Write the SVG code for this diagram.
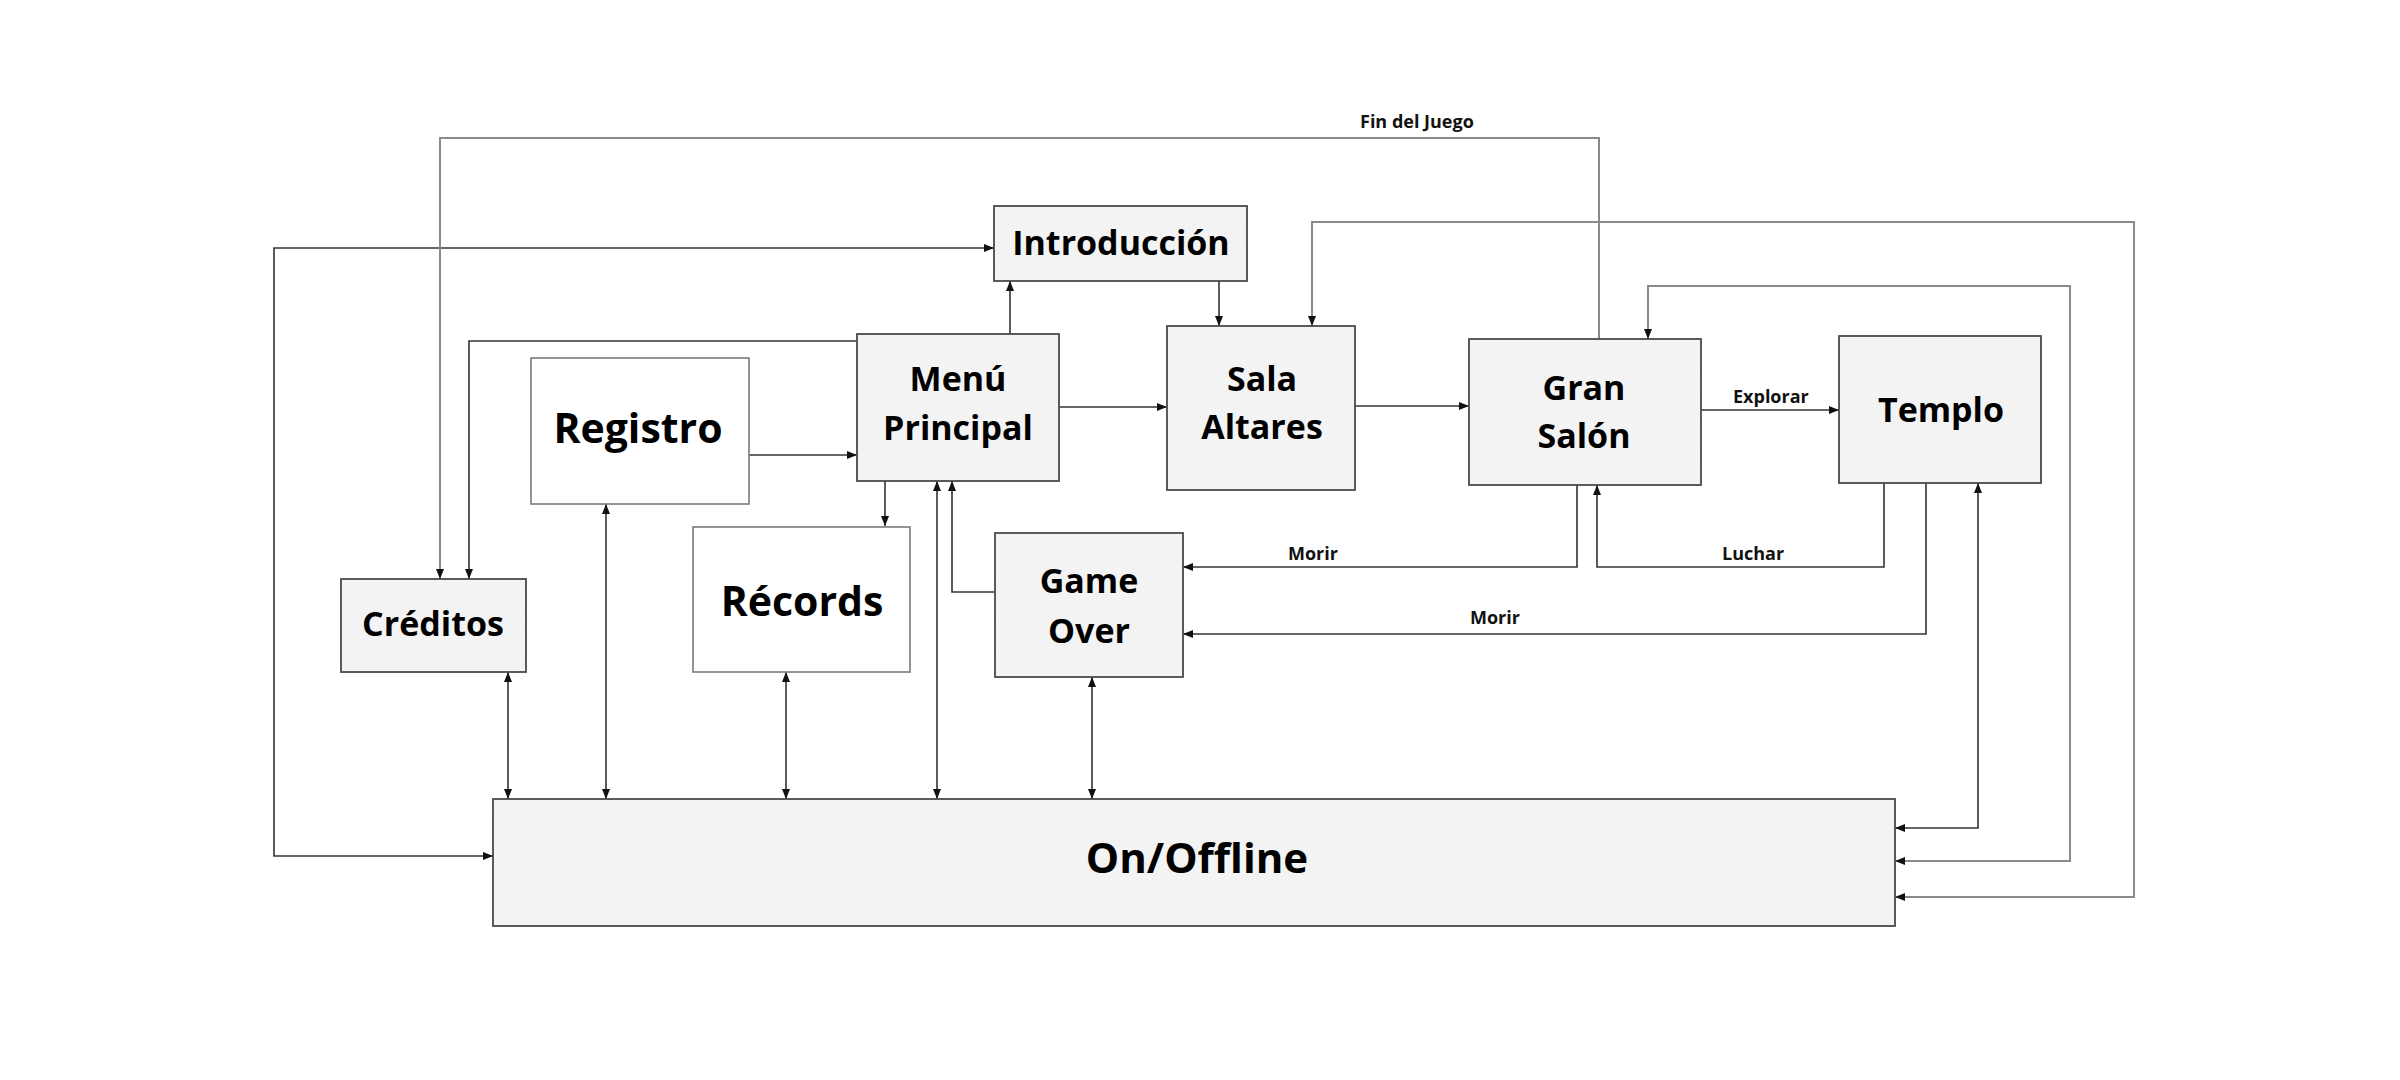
<svg xmlns="http://www.w3.org/2000/svg" width="2400" height="1080" viewBox="0 0 2400 1080">
<style>
.bg{fill:#f4f4f4;stroke:none;filter:url(#grain)}
.box{fill:none;stroke:#4a4a4a;stroke-width:1.8}
.wbox{fill:#ffffff;stroke:#7a7a7a;stroke-width:1.6}
.t{font-family:"Open Sans","Liberation Sans",sans-serif;font-weight:700;fill:#000;text-anchor:middle}
.n{font-size:34px}
.big{font-size:41px}
.lbl{font-family:"Open Sans","Liberation Sans",sans-serif;font-weight:700;font-size:18px;fill:#111}
.c{fill:none;stroke:#333;stroke-width:1.6}
.g{fill:none;stroke:#8a8a8a;stroke-width:2}
</style>
<defs>
<marker id="ah" viewBox="0 0 10 8" refX="10" refY="4" markerWidth="10" markerHeight="8" markerUnits="userSpaceOnUse" orient="auto-start-reverse">
<path d="M0,0 L10,4 L0,8 z" fill="#111"/>
</marker>
<filter id="grain" x="0" y="0" width="1" height="1" filterUnits="objectBoundingBox">
<feTurbulence type="fractalNoise" baseFrequency="0.9" numOctaves="2" seed="2" result="noise"/>
<feColorMatrix in="noise" type="matrix" values="0 0 0 0 0.84  0 0 0 0 0.84  0 0 0 0 0.84  0 0 0 1.4 -0.66" result="spk"/>
<feComposite in="spk" in2="SourceGraphic" operator="in" result="s2"/>
<feMerge><feMergeNode in="SourceGraphic"/><feMergeNode in="s2"/></feMerge>
</filter>
</defs>
<rect width="2400" height="1080" fill="#ffffff"/>
<g id="connectors">
<path class="c" d="M994,248 L274,248 L274,856 L493,856" marker-start="url(#ah)" marker-end="url(#ah)"/>
<path class="g" d="M1599,339 L1599,138 L440,138 L440,579" marker-end="url(#ah)"/>
<path class="c" d="M857,341 L469,341 L469,579" marker-end="url(#ah)"/>
<path class="c" d="M749,455 L857,455" marker-end="url(#ah)"/>
<path class="c" d="M1010,334 L1010,281" marker-end="url(#ah)"/>
<path class="c" d="M1219,281 L1219,326" marker-end="url(#ah)"/>
<path class="c" d="M1059,407 L1167,407" marker-end="url(#ah)"/>
<path class="c" d="M1355,406 L1469,406" marker-end="url(#ah)"/>
<path class="c" d="M1701,410 L1839,410" marker-end="url(#ah)"/>
<path class="c" d="M1577,485 L1577,567 L1183,567" marker-end="url(#ah)"/>
<path class="c" d="M1884,483 L1884,567 L1597,567 L1597,485" marker-end="url(#ah)"/>
<path class="c" d="M1926,483 L1926,634 L1183,634" marker-end="url(#ah)"/>
<path class="c" d="M995,592 L952,592 L952,481" marker-end="url(#ah)"/>
<path class="c" d="M885,481 L885,526" marker-end="url(#ah)"/>
<path class="c" d="M937,481 L937,799" marker-start="url(#ah)" marker-end="url(#ah)"/>
<path class="c" d="M508,672 L508,799" marker-start="url(#ah)" marker-end="url(#ah)"/>
<path class="c" d="M606,504 L606,799" marker-start="url(#ah)" marker-end="url(#ah)"/>
<path class="c" d="M786,672 L786,799" marker-start="url(#ah)" marker-end="url(#ah)"/>
<path class="c" d="M1092,677 L1092,799" marker-start="url(#ah)" marker-end="url(#ah)"/>
<path class="c" d="M1978,483 L1978,828 L1895,828" marker-start="url(#ah)" marker-end="url(#ah)"/>
<path class="g" d="M1648,339 L1648,286 L2070,286 L2070,861 L1895,861" marker-start="url(#ah)" marker-end="url(#ah)"/>
<path class="g" d="M1312,326 L1312,222 L2134,222 L2134,897 L1895,897" marker-start="url(#ah)" marker-end="url(#ah)"/>
<text class="lbl" x="1360" y="128">Fin del Juego</text>
<text class="lbl" x="1733" y="403">Explorar</text>
<text class="lbl" x="1288" y="560">Morir</text>
<text class="lbl" x="1722" y="560">Luchar</text>
<text class="lbl" x="1470" y="624">Morir</text>
</g>
<g id="introduccion">
<rect class="bg" x="994" y="206" width="253" height="75"/>
<rect class="box" x="994" y="206" width="253" height="75"/>
<text class="t n" x="1121" y="255">Introducción</text>
</g>
<g id="menu-principal">
<rect class="bg" x="857" y="334" width="202" height="147"/>
<rect class="box" x="857" y="334" width="202" height="147"/>
<text class="t n" x="958" y="391">Menú</text>
<text class="t n" x="958" y="440">Principal</text>
</g>
<g id="sala-altares">
<rect class="bg" x="1167" y="326" width="188" height="164"/>
<rect class="box" x="1167" y="326" width="188" height="164"/>
<text class="t n" x="1262" y="391">Sala</text>
<text class="t n" x="1262" y="439">Altares</text>
</g>
<g id="gran-salon">
<rect class="bg" x="1469" y="339" width="232" height="146"/>
<rect class="box" x="1469" y="339" width="232" height="146"/>
<text class="t n" x="1584" y="400">Gran</text>
<text class="t n" x="1584" y="448">Salón</text>
</g>
<g id="templo">
<rect class="bg" x="1839" y="336" width="202" height="147"/>
<rect class="box" x="1839" y="336" width="202" height="147"/>
<text class="t n" x="1941" y="422">Templo</text>
</g>
<g id="registro">
<rect class="wbox" x="531" y="358" width="218" height="146"/>
<text class="t big" x="638" y="443">Registro</text>
</g>
<g id="records">
<rect class="wbox" x="693" y="527" width="217" height="145"/>
<text class="t big" x="802" y="616">Récords</text>
</g>
<g id="creditos">
<rect class="bg" x="341" y="579" width="185" height="93"/>
<rect class="box" x="341" y="579" width="185" height="93"/>
<text class="t n" x="433" y="636">Créditos</text>
</g>
<g id="game-over">
<rect class="bg" x="995" y="533" width="188" height="144"/>
<rect class="box" x="995" y="533" width="188" height="144"/>
<text class="t n" x="1089" y="593">Game</text>
<text class="t n" x="1089" y="643">Over</text>
</g>
<g id="on-offline">
<rect class="bg" x="493" y="799" width="1402" height="127"/>
<rect class="box" x="493" y="799" width="1402" height="127"/>
<text class="t" style="font-size:42px" x="1197" y="873">On/Offline</text>
</g>
</svg>
